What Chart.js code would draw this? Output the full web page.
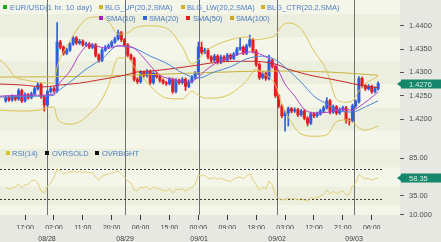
<!DOCTYPE html>
<html lang="en">
<head>
<meta charset="UTF-8" />
<title>EUR/USD 1 hr</title>
<script src="https://cdn.jsdelivr.net/npm/chart.js"></script>
<style>
  body { margin: 0; width: 441px; height: 242px; position: relative; overflow: hidden;
         background: #e8e8e2; font-family: "Liberation Sans", Arial, sans-serif; }
  canvas { position: absolute; left: 0; }
  #price { top: 0; }
  #rsi { top: 141px; }
  .lg { position: absolute; font-size: 7.5px; line-height: 9px; color: #4a7cc4; white-space: nowrap; }
  .sq { position: absolute; width: 4px; height: 4px; }
</style>
</head>
<body>
<canvas id="price" width="441" height="141"></canvas>
<canvas id="rsi" width="441" height="101"></canvas>

<div class="sq" style="left:3px;top:5px;background:#1fa81f"></div><div class="lg" style="left:10px;top:3px;letter-spacing:0.2px">EUR/USD(1 hr. 10 day)</div>
<div class="sq" style="left:99px;top:5px;background:#d6b21e"></div><div class="lg" style="left:105px;top:3px">BLG_UP(20,2,SMA)</div>
<div class="sq" style="left:181px;top:5px;background:#d6b21e"></div><div class="lg" style="left:187px;top:3px">BLG_LW(20,2,SMA)</div>
<div class="sq" style="left:261px;top:5px;background:#d6b21e"></div><div class="lg" style="left:267px;top:3px">BLG_CTR(20,2,SMA)</div>
<div class="sq" style="left:99px;top:16px;background:#a21fc0"></div><div class="lg" style="left:106px;top:14px">SMA(10)</div>
<div class="sq" style="left:143px;top:16px;background:#2f62d6"></div><div class="lg" style="left:149px;top:14px">SMA(20)</div>
<div class="sq" style="left:186px;top:16px;background:#e01f1f"></div><div class="lg" style="left:193px;top:14px">SMA(50)</div>
<div class="sq" style="left:230px;top:16px;background:#c9a91e"></div><div class="lg" style="left:236px;top:14px">SMA(100)</div>
<div class="sq" style="left:6px;top:151px;background:#d6c21e"></div><div class="lg" style="left:12px;top:149px">RSI(14)</div>
<div class="sq" style="left:45px;top:151px;background:#111"></div><div class="lg" style="left:52px;top:149px">OVRSOLD</div>
<div class="sq" style="left:95px;top:151px;background:#111"></div><div class="lg" style="left:102px;top:149px">OVRBGHT</div>

<script>
// hourly candles, index 0 = first bar on the left
const opens = [1.4239,1.4246,1.4241,1.4248,1.4243,1.4261,1.4239,1.4252,1.4246,1.4254,
  1.4265,1.4274,1.4248,1.4230,1.4259,1.4265,1.4261,1.4365,1.4354,1.4341,
  1.4348,1.4361,1.4374,1.4363,1.4367,1.4359,1.4361,1.4354,1.4359,1.4337,
  1.4326,1.4348,1.4354,1.4357,1.4365,1.4372,1.4385,1.4370,1.4359,1.4337,
  1.4330,1.4285,1.4280,1.4300,1.4293,1.4302,1.4278,1.4298,1.4291,1.4283,
  1.4278,1.4276,1.4285,1.4259,1.4283,1.4278,1.4285,1.4270,1.4280,1.4289,
  1.4298,1.4354,1.4343,1.4348,1.4333,1.4326,1.4335,1.4322,1.4333,1.4326,
  1.4337,1.4330,1.4339,1.4350,1.4354,1.4341,1.4357,1.4370,1.4346,1.4317,
  1.4289,1.4298,1.4287,1.4326,1.4313,1.4250,1.4228,1.4207,1.4213,1.4222,
  1.4217,1.4220,1.4209,1.4217,1.4202,1.4191,1.4211,1.4207,1.4211,1.4217,
  1.4224,1.4239,1.4215,1.4226,1.4213,1.4220,1.4224,1.4198,1.4196,1.4228,
  1.4237,1.4287,1.4272,1.4265,1.4270,1.4259,1.4265];
const highs = [1.4250,1.4249,1.4252,1.4251,1.4265,1.4264,1.4256,1.4255,1.4258,1.4269,
  1.4278,1.4277,1.4251,1.4262,1.4268,1.4269,1.4407,1.4369,1.4357,1.4352,
  1.4364,1.4378,1.4377,1.4371,1.4370,1.4365,1.4364,1.4362,1.4362,1.4340,
  1.4351,1.4358,1.4361,1.4368,1.4376,1.4391,1.4388,1.4373,1.4362,1.4340,
  1.4333,1.4289,1.4304,1.4303,1.4306,1.4305,1.4302,1.4301,1.4294,1.4286,
  1.4281,1.4289,1.4288,1.4287,1.4286,1.4289,1.4288,1.4284,1.4293,1.4302,
  1.4365,1.4365,1.4352,1.4351,1.4336,1.4339,1.4338,1.4337,1.4336,1.4341,
  1.4340,1.4343,1.4354,1.4374,1.4357,1.4361,1.4380,1.4373,1.4349,1.4320,
  1.4302,1.4301,1.4337,1.4329,1.4316,1.4253,1.4231,1.4217,1.4226,1.4225,
  1.4224,1.4223,1.4221,1.4220,1.4205,1.4215,1.4214,1.4215,1.4221,1.4228,
  1.4246,1.4242,1.4230,1.4229,1.4224,1.4228,1.4227,1.4201,1.4232,1.4241,
  1.4291,1.4290,1.4275,1.4274,1.4273,1.4269,1.4280];
const lows = [1.4236,1.4238,1.4238,1.4239,1.4240,1.4235,1.4236,1.4242,1.4243,1.4251,
  1.4262,1.4244,1.4217,1.4226,1.4256,1.4257,1.4257,1.4350,1.4337,1.4338,
  1.4345,1.4358,1.4360,1.4360,1.4356,1.4356,1.4351,1.4351,1.4333,1.4322,
  1.4323,1.4345,1.4351,1.4354,1.4362,1.4369,1.4366,1.4355,1.4334,1.4326,
  1.4281,1.4276,1.4277,1.4290,1.4290,1.4274,1.4275,1.4288,1.4279,1.4275,
  1.4272,1.4273,1.4255,1.4256,1.4274,1.4275,1.4261,1.4267,1.4277,1.4286,
  1.4295,1.4339,1.4340,1.4329,1.4322,1.4323,1.4318,1.4319,1.4323,1.4323,
  1.4327,1.4327,1.4336,1.4347,1.4338,1.4338,1.4354,1.4342,1.4313,1.4285,
  1.4286,1.4283,1.4284,1.4309,1.4246,1.4224,1.4203,1.4174,1.4185,1.4213,
  1.4214,1.4205,1.4206,1.4198,1.4185,1.4188,1.4203,1.4204,1.4208,1.4214,
  1.4221,1.4211,1.4212,1.4209,1.4210,1.4217,1.4191,1.4187,1.4193,1.4225,
  1.4234,1.4268,1.4261,1.4262,1.4255,1.4256,1.4262];
const closes = [1.4246,1.4241,1.4248,1.4243,1.4261,1.4239,1.4252,1.4246,1.4254,1.4265,
  1.4274,1.4248,1.4230,1.4259,1.4265,1.4261,1.4365,1.4354,1.4341,1.4348,
  1.4361,1.4374,1.4363,1.4367,1.4359,1.4361,1.4354,1.4359,1.4337,1.4326,
  1.4348,1.4354,1.4357,1.4365,1.4372,1.4385,1.4370,1.4359,1.4337,1.4330,
  1.4285,1.4280,1.4300,1.4293,1.4302,1.4278,1.4298,1.4291,1.4283,1.4278,
  1.4276,1.4285,1.4259,1.4283,1.4278,1.4285,1.4270,1.4280,1.4289,1.4298,
  1.4354,1.4343,1.4348,1.4333,1.4326,1.4335,1.4322,1.4333,1.4326,1.4337,
  1.4330,1.4339,1.4350,1.4354,1.4341,1.4357,1.4370,1.4346,1.4317,1.4289,
  1.4298,1.4287,1.4326,1.4313,1.4250,1.4228,1.4207,1.4213,1.4222,1.4217,
  1.4220,1.4209,1.4217,1.4202,1.4191,1.4211,1.4207,1.4211,1.4217,1.4224,
  1.4239,1.4215,1.4226,1.4213,1.4220,1.4224,1.4198,1.4196,1.4228,1.4237,
  1.4287,1.4272,1.4265,1.4270,1.4259,1.4265,1.4276];

// indicator lines: [bar index, value]
const bollUp = [[-1.8,1.4327],[0,1.4316],[3,1.4290],[6,1.4284],[10,1.4279],[15,1.4277],[16,1.4312],[18,1.4344],
  [20,1.4367],[23,1.4400],[26,1.4417],[29,1.4419],[32,1.4410],[35,1.4382],[38,1.4385],[40,1.4395],[45,1.4400],
  [50,1.4395],[55,1.4355],[58,1.4318],[60,1.4327],[62,1.4344],[65,1.4357],[70,1.4370],[75,1.4376],[78,1.4370],
  [80,1.4372],[84,1.4380],[86,1.4400],[88,1.4406],[92,1.4393],[96,1.4346],[100,1.4303],[103,1.4243],[106,1.4236],
  [108,1.4239],[110,1.4260],[112,1.4275],[116,1.4292]];
const bollLow = [[-1.8,1.4219],[5,1.4217],[10,1.4219],[15,1.4226],[16,1.4202],[18,1.4191],[20,1.4189],[23,1.4194],
  [26,1.4211],[29,1.4232],[32,1.4271],[35,1.4331],[38,1.4331],[40,1.4312],[45,1.4271],[50,1.4245],[55,1.4243],
  [58,1.4260],[60,1.4251],[62,1.4245],[65,1.4245],[70,1.4254],[75,1.4282],[78,1.4307],[80,1.4299],[84,1.4273],
  [86,1.4232],[88,1.4204],[92,1.4168],[96,1.4163],[100,1.4166],[103,1.4194],[106,1.4198],[108,1.4194],
  [110,1.4181],[112,1.4176],[116,1.4185]];
const sma10 = [[-1.8,1.4249],[5,1.4251],[10,1.4251],[15,1.4254],[16,1.4269],[17,1.4279],[20,1.4303],[23,1.4339],
  [26,1.4359],[29,1.4355],[32,1.4352],[35,1.4357],[37,1.4357],[40,1.4352],[43,1.4331],[46,1.4307],[48,1.4294],
  [53,1.4284],[57,1.4279],[60,1.4290],[62,1.4303],[65,1.4318],[70,1.4333],[76,1.4344],[80,1.4337],[84,1.4316],
  [87,1.4275],[90,1.4249],[93,1.4221],[96,1.4213],[101,1.4215],[105,1.4221],[108,1.4219],[110,1.4226],
  [113,1.4241],[116,1.4258]];
const sma20 = [[-1.8,1.4247],[10,1.4249],[15,1.4251],[16,1.4258],[20,1.4279],[25,1.4307],[30,1.4329],[35,1.4357],
  [40,1.4352],[45,1.4335],[50,1.4320],[55,1.4299],[60,1.4288],[65,1.4301],[70,1.4312],[75,1.4329],[80,1.4335],
  [84,1.4327],[88,1.4305],[92,1.4279],[96,1.4249],[100,1.4232],[104,1.4217],[108,1.4215],[112,1.4226],[116,1.4239]];
const sma50 = [[-1.8,1.4275],[5,1.4273],[12,1.4269],[17,1.4273],[23,1.4277],[29,1.4284],[37,1.4294],[41,1.4301],
  [45,1.4303],[53,1.4309],[60,1.4316],[66,1.4322],[76,1.4324],[84,1.4318],[88,1.4307],[92,1.4299],[96,1.4292],
  [101,1.4286],[106,1.4279],[110,1.4273],[116,1.4267]];
const sma100 = [[-1.8,1.4290],[30,1.4292],[60,1.4299],[84,1.4303],[100,1.4301],[116,1.4294]];

const rsi14 = [45.3,43.9,45.3,47.0,50.6,45.3,49.3,50.6,54.6,55.9,
  51.9,41.3,38.6,47.9,51.9,58.6,70.6,67.9,63.9,65.3,
  66.6,67.9,65.9,67.3,65.9,66.6,65.3,65.9,59.9,55.9,
  61.3,62.6,63.9,65.3,66.6,67.9,63.9,59.9,54.6,51.9,
  42.6,41.9,46.6,45.3,47.3,42.6,46.6,45.3,43.3,41.9,
  41.3,43.9,38.6,43.9,42.6,44.6,41.3,43.9,46.6,49.9,
  62.6,61.3,61.9,58.6,57.3,59.3,56.6,58.6,56.6,55.3,
  53.9,57.3,59.3,59.9,57.9,60.6,64.6,55.9,49.3,42.6,
  46.6,43.9,54.6,49.3,35.9,31.9,29.3,29.9,31.9,30.6,
  31.3,29.3,31.3,29.3,27.9,32.6,31.3,32.6,34.6,36.6,
  42.6,37.3,40.6,37.9,39.9,41.3,35.9,36.6,47.9,51.9,
  63.3,59.9,57.3,57.9,55.9,57.3,58.35];
const overSold = 30;
const overBought = 70;

const priceTicks = [1.4200, 1.4250, 1.4300, 1.4350, 1.4400];
const rsiTicks = [10, 35, 85];
const rsiTickLabels = ['10.000', '35.00', '85.00'];
const timeTicks = [6, 15, 24, 33, 42, 51, 60, 69, 78, 87, 96, 105, 114];
const timeLabels = ['17:00','02:00','11:00','20:00','06:00','15:00','00:00','09:00','18:00','03:00','12:00','21:00','06:00'];
const dayBreaks = [12.85, 37.15, 60.2, 84.5, 108.5];
const dayLabels = ['08/28', '08/29', '09/01', '09/02', '09/03'];

Chart.defaults.font.family = '"Liberation Sans", Arial, sans-serif';
Chart.defaults.font.size = 7.5;
Chart.defaults.color = '#4e4e4e';

const xMin = -1.79, xMax = 122.8;
const up = '#2f5fdc', down = '#e41e1e';
const idx = closes.map((c, i) => i);
const candleColors = closes.map((c, i) => (c >= opens[i] ? up : down));
const pts = arr => arr.map(([x, y]) => ({ x, y }));

const line = (data, color, order) => ({
  type: 'line', data: pts(data), borderColor: color, borderWidth: 1,
  pointRadius: 0, cubicInterpolationMode: 'monotone', order
});

function rightAxis(min, max, ticks, fmt) {
  return {
    position: 'right', min, max, bounds: 'data',
    afterBuildTicks: s => { s.ticks = ticks.map(v => ({ value: v })); },
    afterFit: s => { s.width = 41; s.paddingTop = 0; s.paddingBottom = 0; },
    ticks: { callback: fmt, color: '#4e4e4e', padding: 5, font: { size: 7.5 } },
    grid: { drawOnChartArea: false, tickLength: 4, tickColor: '#555', color: '#555' },
    border: { display: false }
  };
}

// light/dark stripes behind the plot
const panelBg = {
  id: 'panelBg',
  beforeDraw(chart, args, o) {
    const { ctx, chartArea: a, scales: { y } } = chart;
    ctx.save();
    ctx.beginPath(); ctx.rect(a.left, a.top, a.right - a.left, a.bottom - a.top); ctx.clip();
    ctx.fillStyle = '#f5f6ea';
    ctx.fillRect(a.left, a.top, a.right - a.left, a.bottom - a.top);
    ctx.fillStyle = '#ecefdd';
    o.bands.forEach(([lo, hi]) => {
      const t = y.getPixelForValue(hi), b = y.getPixelForValue(lo);
      ctx.fillRect(a.left, t, a.right - a.left, b - t);
    });
    ctx.restore();
  }
};

const daySeparators = {
  id: 'daySeparators',
  beforeDatasetsDraw(chart) {
    const { ctx, chartArea: a, scales: { x } } = chart;
    ctx.save();
    ctx.strokeStyle = '#707070';
    ctx.lineWidth = 1;
    dayBreaks.forEach(d => {
      const px = Math.round(x.getPixelForValue(d)) + 0.5;
      ctx.beginPath(); ctx.moveTo(px, a.top); ctx.lineTo(px, a.bottom); ctx.stroke();
    });
    ctx.restore();
  }
};

// green tag with the last value on the right axis
const lastTag = {
  id: 'lastTag',
  afterDraw(chart, args, o) {
    const { ctx, chartArea: a, scales: { y } } = chart;
    const py = Math.round(y.getPixelForValue(o.value));
    ctx.save();
    ctx.fillStyle = '#16876a';
    ctx.fillRect(a.right + 1, py - 4.5, chart.width - a.right - 1, 9);
    ctx.beginPath();
    ctx.moveTo(a.right - 3, py);
    ctx.lineTo(a.right + 1, py - 3);
    ctx.lineTo(a.right + 1, py + 3);
    ctx.fill();
    ctx.fillStyle = '#d8f0e6';
    ctx.font = '7.5px "Liberation Sans", Arial, sans-serif';
    ctx.textBaseline = 'middle';
    ctx.fillText(o.label, a.right + 9, py + 0.5);
    ctx.restore();
  }
};

const xAxis = { type: 'linear', min: xMin, max: xMax, bounds: 'data', offset: false };

new Chart(document.getElementById('price'), {
  type: 'bar',
  data: {
    datasets: [
      { type: 'bar', data: idx.map(i => ({ x: i, y: [lows[i], highs[i]] })), backgroundColor: candleColors,
        barThickness: 1, grouped: false, order: 20 },
      { type: 'bar', data: idx.map(i => ({ x: i, y: [opens[i], closes[i]] })), backgroundColor: candleColors,
        barThickness: 2.4, grouped: false, order: 19 },
      line(sma100, '#cbb33a', 6),
      line(bollUp, '#dcc456', 5),
      line(bollLow, '#dcc456', 5),
      line(sma50, '#c42a2a', 4),
      line(sma20, '#4a86d8', 3),
      line(sma10, '#b040c8', 2)
    ]
  },
  options: {
    responsive: false, animation: false, events: [],
    layout: { padding: 0 },
    plugins: {
      legend: { display: false }, tooltip: { enabled: false },
      panelBg: { bands: [[1.4375, 1.4425], [1.4275, 1.4325], [1.4175, 1.4225]] },
      lastTag: { value: closes[closes.length - 1], label: closes[closes.length - 1].toFixed(4) }
    },
    scales: {
      x: { ...xAxis, display: false },
      y: rightAxis(1.41528, 1.44554, priceTicks, v => v.toFixed(4))
    }
  },
  plugins: [panelBg, daySeparators, lastTag]
});

const lastIdx = closes.length + 0.5;
new Chart(document.getElementById('rsi'), {
  type: 'line',
  data: {
    datasets: [
      { data: idx.map(i => ({ x: i, y: rsi14[i] })), borderColor: '#e2d07a', borderWidth: 1, pointRadius: 0, order: 1 },
      { data: [{ x: xMin, y: overSold }, { x: lastIdx, y: overSold }], borderColor: '#333', borderWidth: 1,
        borderDash: [2, 2], pointRadius: 0, order: 2 },
      { data: [{ x: xMin, y: overBought }, { x: lastIdx, y: overBought }], borderColor: '#333', borderWidth: 1,
        borderDash: [2, 2], pointRadius: 0, order: 2 }
    ]
  },
  options: {
    responsive: false, animation: false, events: [],
    layout: { padding: 0 },
    plugins: {
      legend: { display: false }, tooltip: { enabled: false },
      panelBg: { bands: [[72.5, 97.5], [22.5, 47.5]] },
      lastTag: { value: rsi14[rsi14.length - 1], label: rsi14[rsi14.length - 1].toFixed(2) }
    },
    scales: {
      x: {
        ...xAxis, position: 'bottom', weight: 0,
        afterBuildTicks: s => { s.ticks = timeTicks.map(v => ({ value: v })); },
        afterFit: s => { s.height = 14; s.paddingLeft = 0; s.paddingRight = 0; },
        ticks: { callback: (v, i) => timeLabels[i], autoSkip: false, maxRotation: 0, padding: 4,
                 color: '#3c3c3c', font: { size: 7 } },
        grid: { drawOnChartArea: false, tickLength: 5, tickColor: '#333', color: '#333' },
        border: { display: false }
      },
      x2: {
        ...xAxis, position: 'bottom', weight: 1,
        afterBuildTicks: s => { s.ticks = dayBreaks.map(v => ({ value: v })); },
        afterFit: s => { s.height = 13; s.paddingLeft = 0; s.paddingRight = 0; },
        ticks: { callback: (v, i) => dayLabels[i], autoSkip: false, maxRotation: 0, padding: 6,
                 color: '#3c3c3c', font: { size: 7 } },
        grid: { display: false, drawTicks: false },
        border: { display: false }
      },
      y: rightAxis(9.27, 107.93, rsiTicks, (v, i) => rsiTickLabels[i])
    }
  },
  plugins: [panelBg, daySeparators, lastTag]
});
</script>
</body>
</html>
